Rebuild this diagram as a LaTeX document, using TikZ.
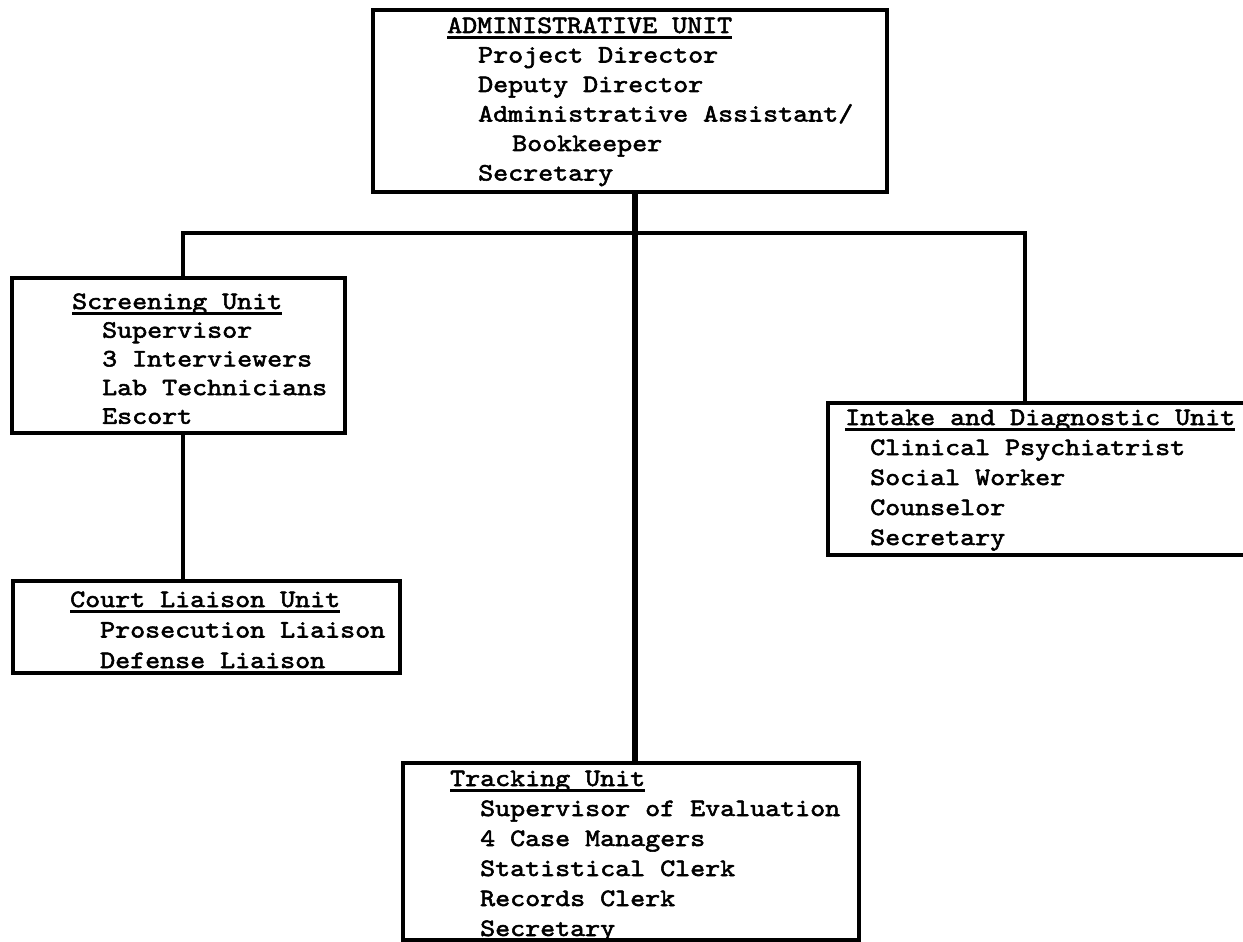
\documentclass[tikz,border=0pt]{standalone}
\usepackage{fontspec}
\newfontfamily\typew{lmmono10-regular.otf}[FakeBold=2.2, FakeStretch=1.143]
\usetikzlibrary{fit}
\newcommand\utitle[1]{\setbox0\hbox{#1}\rlap{\rule[-5.6pt]{\wd0}{2.2pt}}\box0}
\newcommand\ind[1]{\hspace*{#1pt}}
\tikzset{
  unitbox/.style={draw, rectangle, line width=3.2pt, inner sep=0pt},
  unittext/.style={inner sep=0pt, anchor=base west, align=left,
    font=\fontsize{25}{#1}\selectfont\typew},
  link/.style={line width=3.6pt, line join=miter},
  mainlink/.style={line width=6.5pt},
}
\begin{document}
\begin{tikzpicture}[x=1pt,y=-1pt]
\fill[white] (0,0) rectangle (1243,942);
\useasboundingbox (0,0) rectangle (1243,942);

% boxes
\node[unitbox, fit={(373,10) (887,192)}] (admin) {};
\node[unitbox, fit={(12,278) (345,433)}] (screen) {};
\node[unitbox, fit={(13,581) (400,673)}] (court) {};
\node[unitbox, fit={(828,403) (1262,555)}] (intake) {};
\node[unitbox, fit={(403,763) (859,940)}] (track) {};

% texts
\node[unittext=29.5] (admintxt) at (447,33) {\begin{tabular}[t]{@{}l@{}}
\utitle{ADMINISTRATIVE UNIT}\\
\ind{31}Project Director\\
\ind{31}Deputy Director\\
\ind{31}Administrative Assistant/\\
\ind{65}Bookkeeper\\
\ind{31}Secretary
\end{tabular}};

\node[unittext=28.7] (screentxt) at (72,309) {\begin{tabular}[t]{@{}l@{}}
\utitle{Screening Unit}\\
\ind{30}Supervisor\\
\ind{30}3 Interviewers\\
\ind{30}Lab Technicians\\
\ind{30}Escort
\end{tabular}};

\node[unittext=30.5] (courttxt) at (70,607) {\begin{tabular}[t]{@{}l@{}}
\utitle{Court Liaison Unit}\\
\ind{30}Prosecution Liaison\\
\ind{30}Defense Liaison
\end{tabular}};

\node[unittext=30] (intaketxt) at (845,425) {\begin{tabular}[t]{@{}l@{}}
\utitle{Intake and Diagnostic Unit}\\
\ind{25}Clinical Psychiatrist\\
\ind{25}Social Worker\\
\ind{25}Counselor\\
\ind{25}Secretary
\end{tabular}};

\node[unittext=30] (tracktxt) at (450,786) {\begin{tabular}[t]{@{}l@{}}
\utitle{Tracking Unit}\\
\ind{30}Supervisor of Evaluation\\
\ind{30}4 Case Managers\\
\ind{30}Statistical Clerk\\
\ind{30}Records Clerk\\
\ind{30}Secretary
\end{tabular}};

% connectors
\coordinate (jl) at (183,233);
\coordinate (jr) at (1025,233);
\coordinate (mc) at ([xshift=5pt]admin.south);
\draw[mainlink] (mc) -- (mc |- track.north);
\draw[link] (jl |- screen.north) -- (jl) -- (jr) -- (jr |- intake.north);
\draw[link] (screen.south -| jl) -- (court.north -| jl);
\end{tikzpicture}
\end{document}
